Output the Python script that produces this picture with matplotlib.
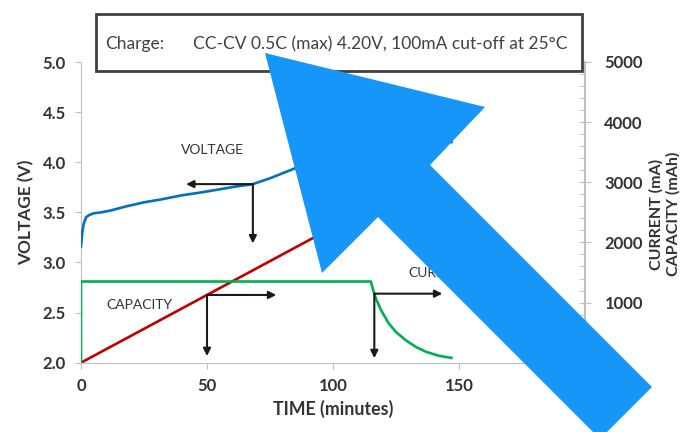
import matplotlib
matplotlib.use("Agg")
import matplotlib.pyplot as plt
import numpy as np
from matplotlib.patches import Polygon, Rectangle

plt.rcParams['font.family'] = ['Lato', 'DejaVu Sans']

# ---- data ----
volt_t = [0, 0.5, 1, 2, 3, 5, 8, 12, 18, 25, 32, 40, 48, 55, 62, 68, 75, 82, 88, 95, 102, 108, 113, 115, 147]
volt_v = [3.16, 3.30, 3.38, 3.45, 3.47, 3.49, 3.50, 3.52, 3.56, 3.60, 3.63, 3.67, 3.70, 3.73, 3.76, 3.78,
          3.84, 3.91, 3.97, 4.04, 4.11, 4.16, 4.19, 4.20, 4.20]

cap_t = [0, 115, 120, 125, 130, 135, 140, 147]
cap_mah = [0, 2590, 2690, 2740, 2770, 2790, 2800, 2810]

cur_t = [0, 0, 115, 116, 117, 119, 122, 125, 129, 133, 137, 142, 147]
cur_ma = [0, 1350, 1350, 1200, 1070, 880, 660, 510, 370, 260, 180, 115, 80]

x_ticks = [0, 50, 100, 150, 200]
v_ticks = [2.0, 2.5, 3.0, 3.5, 4.0, 4.5, 5.0]
r_ticks = [1000, 2000, 3000, 4000, 5000]

title_left = "Charge:"
title_right = "CC-CV 0.5C (max) 4.20V, 100mA cut-off at 25\u00b0C"

W, H = 682, 432
fig = plt.figure(figsize=(W / 100, H / 100), dpi=100)
ax = fig.add_axes([81 / W, 1 - 362.7 / H, (585 - 81) / W, (362.7 - 62) / H])
ax2 = ax.twinx()

BLUE, RED, GREEN = '#0070C0', '#C00000', '#00B050'
ax.plot(volt_t, volt_v, color=BLUE, lw=1.9, zorder=3)
ax2.plot(cap_t, cap_mah, color=RED, lw=1.9, zorder=3)
ax2.plot(cur_t, cur_ma, color=GREEN, lw=1.9, zorder=3)

ax.set_xlim(0, 200)
ax.set_ylim(2.0, 5.0)
ax2.set_ylim(0, 5000)

ax.set_xticks(x_ticks)
ax.set_xticklabels([str(v) if v < 200 else '' for v in x_ticks])
ax.set_yticks(v_ticks)
ax.set_yticklabels([f"{v:.1f}" for v in v_ticks])
ax2.set_yticks(r_ticks)
ax2.set_yticks(np.arange(0, 5001, 200), minor=True)

SPINE = '#bfbfbf'
ax.spines['top'].set_visible(False)
ax2.spines['top'].set_visible(False)
ax.spines['right'].set_visible(False)
ax2.spines['left'].set_visible(False)
ax2.spines['bottom'].set_visible(False)
ax.spines['left'].set_color(SPINE)
ax.spines['bottom'].set_color(SPINE)
ax2.spines['right'].set_color(SPINE)
ax2.spines['right'].set_linewidth(1.5)

LBL = '#333333'
TS = 12
ax.tick_params(axis='y', direction='out', length=4, color=SPINE, labelsize=TS, pad=7, labelcolor=LBL)
ax.tick_params(axis='x', direction='out', length=4, color=SPINE, labelsize=TS, pad=7, labelcolor=LBL)
ax2.tick_params(axis='y', which='major', direction='inout', length=8, color=SPINE, labelsize=TS, pad=10, labelcolor=LBL)
ax2.tick_params(axis='y', which='minor', direction='in', length=4, color=SPINE)
for lab in ax.get_xticklabels() + ax.get_yticklabels() + ax2.get_yticklabels():
    lab.set_fontweight('bold')

ax.set_xlabel("TIME (minutes)", fontsize=12.8, fontweight='bold', color=LBL, labelpad=4)
ax.set_ylabel("VOLTAGE (V)", fontsize=12.4, fontweight='bold', color=LBL, labelpad=6)
fig.text(665 / W, 1 - 214 / H, "CURRENT (mA)\nCAPACITY (mAh)", rotation=90, ha='center', va='center',
         fontsize=11.5, fontweight='bold', color=LBL, linespacing=1.2)

# text labels
fig.text(212 / W, 1 - 150 / H, "VOLTAGE", ha='center', va='center', fontsize=10, color=LBL)
fig.text(139 / W, 1 - 305 / H, "CAPACITY", ha='center', va='center', fontsize=10, color=LBL)
fig.text(408 / W, 1 - 273 / H, "CURRENT", ha='left', va='center', fontsize=10, color=LBL)

# black indicator arrows
AC = '#1a1a1a'
def corner_arrow(axis, tc, yc, tx, yy):
    kw = dict(arrowstyle='-|>', color=AC, lw=1.5, mutation_scale=11, shrinkA=0, shrinkB=0)
    axis.annotate('', xy=(tx, yc), xytext=(tc, yc), arrowprops=kw, zorder=4)
    axis.annotate('', xy=(tc, yy), xytext=(tc, yc), arrowprops=kw, zorder=4)

tv = 68.2
corner_arrow(ax, tv, np.interp(tv, volt_t, volt_v), tv - 26.5, 3.19)
tcap = 50
corner_arrow(ax2, tcap, np.interp(tcap, cap_t, cap_mah), tcap + 27.5, 110)
tcur = 116.4
corner_arrow(ax2, tcur, np.interp(tcur, cur_t[1:], cur_ma[1:]), tcur + 27, 75)

# title box
def px(x, y):
    return (x / W, 1 - y / H)
box = Rectangle(px(96, 71), (582 - 96) / W, (71 - 14) / H, transform=fig.transFigure,
                facecolor='white', edgecolor='#404040', lw=2, zorder=5)
fig.add_artist(box)
fig.text(105 / W, 1 - 44 / H, title_left, ha='left', va='center', fontsize=12.5, color='#404040', zorder=6)
fig.text(193 / W, 1 - 44 / H, title_right, ha='left', va='center', fontsize=12.5, color='#404040', zorder=6)

# overlaid big blue arrow
arrow_px = [(265, 53), (485, 107), (430, 165), (652, 387), (600, 439), (378, 217), (322, 273)]
poly = Polygon([px(x, y) for x, y in arrow_px], closed=True, transform=fig.transFigure,
               facecolor='#1696f9', edgecolor='none', zorder=10)
fig.add_artist(poly)

fig.savefig("out.png", dpi=100)
